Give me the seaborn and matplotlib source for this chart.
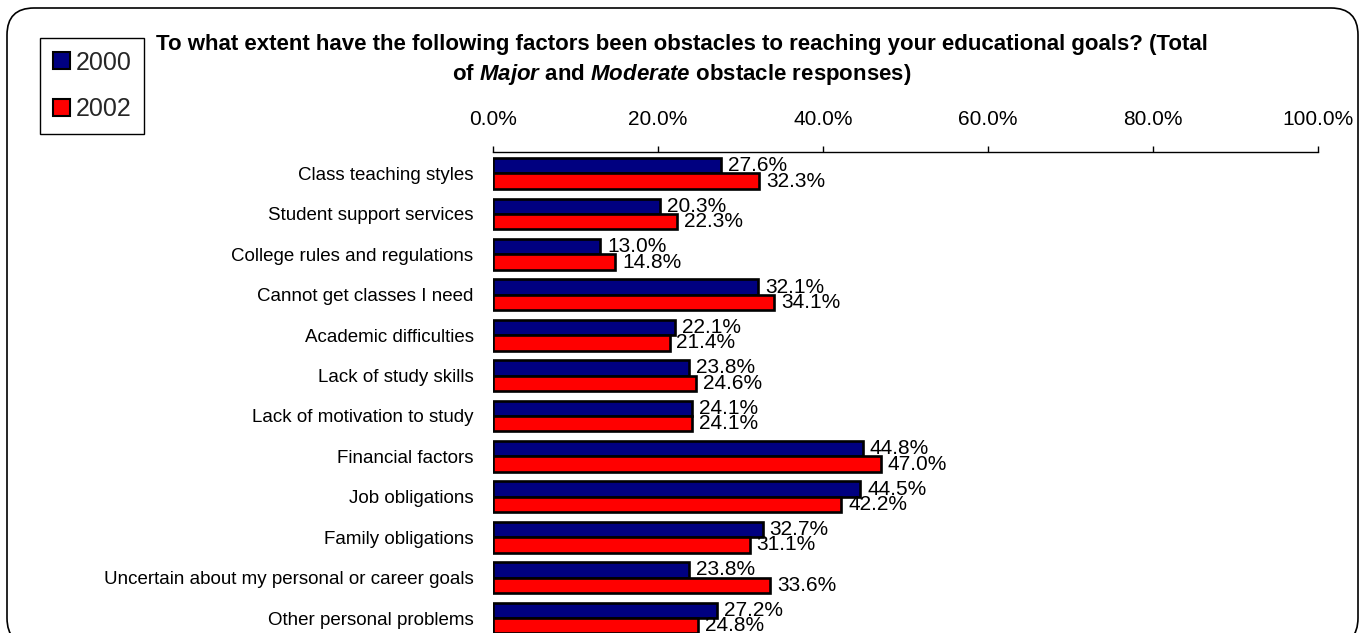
import matplotlib
matplotlib.use('Agg')
import matplotlib.pyplot as plt
import seaborn as sns
import pandas as pd
from matplotlib.patches import FancyBboxPatch, Patch
from matplotlib.transforms import IdentityTransform

categories = [
    "Class teaching styles",
    "Student support services",
    "College rules and regulations",
    "Cannot get classes I need",
    "Academic difficulties",
    "Lack of study skills",
    "Lack of motivation to study",
    "Financial factors",
    "Job obligations",
    "Family obligations",
    "Uncertain about my personal or career goals",
    "Other personal problems",
]
years = ["2000", "2002"]
values_2000 = [27.6, 20.3, 13.0, 32.1, 22.1, 23.8, 24.1, 44.8, 44.5, 32.7, 23.8, 27.2]
values_2002 = [32.3, 22.3, 14.8, 34.1, 21.4, 24.6, 24.1, 47.0, 42.2, 31.1, 33.6, 24.8]
x_ticks = [0, 20, 40, 60, 80, 100]
x_tick_labels = ["0.0%", "20.0%", "40.0%", "60.0%", "80.0%", "100.0%"]
colors = {"2000": "#000080", "2002": "#FF0000"}
title_line1 = "To what extent have the following factors been obstacles to reaching your educational goals? (Total"
title_line2 = r"of $\mathit{Major}$ and $\mathit{Moderate}$ obstacle responses)"

sns.set_theme(style="white")
plt.rcParams["font.family"] = ["Liberation Sans", "DejaVu Sans"]
plt.rcParams["mathtext.fontset"] = "custom"
plt.rcParams["mathtext.rm"] = "Liberation Sans:bold"
plt.rcParams["mathtext.it"] = "Liberation Sans:italic:bold"
plt.rcParams["mathtext.bf"] = "Liberation Sans:bold"

df = pd.DataFrame({
    "category": categories * 2,
    "value": values_2000 + values_2002,
    "year": [years[0]] * len(categories) + [years[1]] * len(categories),
})

W, H = 1370, 633
fig = plt.figure(figsize=(W / 100, H / 100), dpi=100)
fig.patch.set_facecolor("white")
ax = fig.add_axes([493 / W, 0, (1318 - 493) / W, 1 - 152 / H])

sns.barplot(data=df, y="category", x="value", hue="year", order=categories,
            hue_order=years, palette=colors, orient="h", width=0.76,
            edgecolor="black", linewidth=1.9, saturation=1, errorbar=None,
            ax=ax)

for cont, vals in zip(ax.containers, [values_2000, values_2002]):
    ax.bar_label(cont, labels=[f"{v:.1f}%" for v in vals], padding=5,
                 fontsize=15, color="black")

ax.set_xlim(0, 100)
ax.set_ylim(11.37, -0.532)
ax.set_xticks(x_ticks, labels=x_tick_labels)
ax.xaxis.tick_top()
ax.tick_params(axis="x", top=True, bottom=False, direction="out", length=4.5,
               width=1, pad=12, labelsize=15, color="black", labelcolor="black")
ax.tick_params(axis="y", left=False, length=0, pad=14, labelsize=13.5,
               labelcolor="black")
ax.set_xlabel("")
ax.set_ylabel("")
for s in ["left", "right", "bottom"]:
    ax.spines[s].set_visible(False)
ax.spines["top"].set_visible(True)
ax.spines["top"].set_color("black")
ax.spines["top"].set_linewidth(1)
ax.set_facecolor("white")

if ax.get_legend() is not None:
    ax.get_legend().remove()
handles = [Patch(facecolor=colors[y], edgecolor="black", linewidth=1.5) for y in years]
leg = fig.legend(handles, years, loc="upper left",
                 bbox_to_anchor=(40 / W, 1 - 38 / H), bbox_transform=fig.transFigure,
                 borderaxespad=0, frameon=True, fancybox=False, edgecolor="black",
                 fontsize=18, handlelength=0.68, handleheight=0.68,
                 handletextpad=0.25, labelspacing=0.9, borderpad=0.5)
leg.get_frame().set_linewidth(1)
leg.get_frame().set_alpha(1)

fig.text(682 / W, 1 - 50 / H, title_line1, ha="center", va="baseline",
         fontsize=16, fontweight="bold", color="black")
fig.text(682 / W, 1 - 80 / H, title_line2, ha="center", va="baseline",
         fontsize=16, fontweight="bold", color="black")

border = FancyBboxPatch((7, -12), 1351, 625 + 12,
                        boxstyle="round,pad=0,rounding_size=27",
                        transform=IdentityTransform(), fill=False,
                        edgecolor="black", linewidth=1.2)
fig.add_artist(border)

fig.savefig("out.png", dpi=100)
